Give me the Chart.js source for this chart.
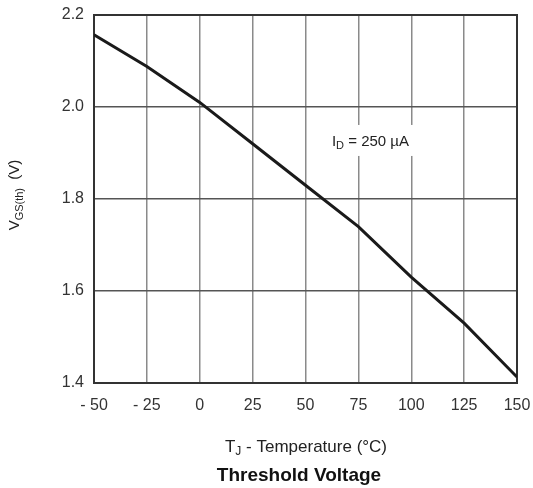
<!DOCTYPE html>
<html>
<head>
<meta charset="utf-8">
<script src="https://cdn.jsdelivr.net/npm/chart.js@4"></script>
<style>
html,body{margin:0;padding:0;background:#fff;}
#wrap{width:533px;height:488px;position:relative;}
</style>
</head>
<body>
<div id="wrap"><canvas id="c" width="533" height="488"></canvas></div>
<script>
const temperatures = [-50, -25, 0, 25, 50, 75, 100, 125, 150];
const vgsth = [2.157, 2.088, 2.01, 1.92, 1.83, 1.74, 1.63, 1.53, 1.413];
const xTicks = [-50, -25, 0, 25, 50, 75, 100, 125, 150];
const yTicks = [1.4, 1.6, 1.8, 2.0, 2.2];
const annotationParts = [['I', false], ['D', true], [' = 250 µA', false]];
const annotationAt = {x: 62.5, y: 1.924};

const FONT = '"Liberation Sans", Arial, sans-serif';

function measureParts(ctx, parts, size) {
  let total = 0;
  const widths = parts.map(p => {
    ctx.font = (p[1] ? Math.round(size * 0.72) : size) + 'px ' + FONT;
    const w = ctx.measureText(p[0]).width;
    total += w;
    return w;
  });
  return {total, widths};
}

function drawSubText(ctx, parts, x, y, align, size) {
  const m = measureParts(ctx, parts, size);
  let cx = align === 'center' ? x - m.total / 2 : x;
  parts.forEach((p, i) => {
    ctx.font = (p[1] ? Math.round(size * 0.72) : size) + 'px ' + FONT;
    ctx.fillText(p[0], cx, p[1] ? y + size * 0.3 : y);
    cx += m.widths[i];
  });
  return m.total;
}

const customText = {
  id: 'customText',
  beforeDatasetsDraw(chart) {
    const {ctx, chartArea: a} = chart;
    ctx.save();
    ctx.strokeStyle = '#333';
    ctx.lineWidth = 2;
    ctx.strokeRect(a.left, a.top, a.right - a.left, a.bottom - a.top);
    ctx.restore();
  },
  afterDatasetsDraw(chart) {
    const {ctx, scales} = chart;
    const ax = scales.x.getPixelForValue(annotationAt.x);
    const ay = scales.y.getPixelForValue(annotationAt.y);
    ctx.save();
    const m = measureParts(ctx, annotationParts, 15);
    ctx.fillStyle = '#fff';
    ctx.fillRect(ax - 7, ay - 17, m.total + 16, 31);
    ctx.fillStyle = '#222';
    ctx.textBaseline = 'middle';
    ctx.textAlign = 'left';
    drawSubText(ctx, annotationParts, ax, ay, 'left', 15);
    ctx.restore();
  },
  afterDraw(chart) {
    const {ctx} = chart;
    ctx.save();
    ctx.fillStyle = '#222';
    ctx.textBaseline = 'middle';
    ctx.textAlign = 'left';
    drawSubText(ctx, [['T', false], ['J', true], [' - Temperature (°C)', false]], 306, 447, 'center', 17);
    ctx.translate(15, 195);
    ctx.rotate(-Math.PI / 2);
    drawSubText(ctx, [['V', false], ['GS(th)', true], ['  (V)', false]], 0, 0, 'center', 15);
    ctx.restore();
    ctx.save();
    ctx.fillStyle = '#111';
    ctx.font = 'bold 19px ' + FONT;
    ctx.textAlign = 'center';
    ctx.textBaseline = 'middle';
    ctx.fillText('Threshold Voltage', 299, 476);
    ctx.restore();
  }
};

new Chart(document.getElementById('c'), {
  type: 'line',
  data: {
    datasets: [{
      data: temperatures.map((t, i) => ({x: t, y: vgsth[i]})),
      borderColor: '#1a1a1a',
      borderWidth: 3,
      pointRadius: 0,
      tension: 0,
      fill: false
    }]
  },
  options: {
    responsive: false,
    animation: false,
    events: [],
    layout: {padding: {top: 15, right: 16, left: 0, bottom: 0}},
    plugins: {legend: {display: false}, tooltip: {enabled: false}, title: {display: false}},
    scales: {
      x: {
        type: 'linear',
        min: -50, max: 150,
        afterBuildTicks(s) { s.ticks = xTicks.map(v => ({value: v})); },
        afterFit(s) { s.height = 105; s.paddingLeft = 0; s.paddingRight = 0; },
        grid: {color: '#8a8a8a', lineWidth: 1.5, drawTicks: false},
        border: {display: false},
        ticks: {
          padding: 13,
          color: '#333',
          font: {family: FONT, size: 16},
          maxRotation: 0,
          callback: v => v < 0 ? '- ' + Math.abs(v) : String(v)
        }
      },
      y: {
        min: 1.4, max: 2.2,
        afterBuildTicks(s) { s.ticks = yTicks.map(v => ({value: v})); },
        afterFit(s) { s.width = 94; s.paddingTop = 0; s.paddingBottom = 0; },
        grid: {color: '#555', lineWidth: 1.5, drawTicks: false},
        border: {display: false},
        ticks: {
          padding: 10,
          color: '#333',
          font: {family: FONT, size: 16},
          callback: v => v.toFixed(1)
        }
      }
    }
  },
  plugins: [customText]
});
</script>
</body>
</html>
